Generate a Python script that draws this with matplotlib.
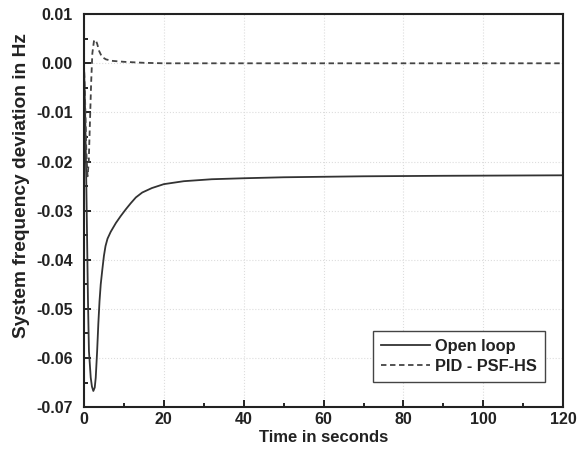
import matplotlib.pyplot as plt
from matplotlib.ticker import MultipleLocator

plt.rcParams['font.family'] = ['Liberation Sans', 'DejaVu Sans']
plt.rcParams['font.weight'] = 'bold'

# Open loop response
t_open = [0, 0.3, 0.6, 1.0, 1.25, 1.7, 2.0, 2.35, 2.7, 2.95, 3.3, 3.6, 3.9, 4.2, 4.6,
          5.0, 5.4, 5.9, 6.7, 8.0, 9.2, 10.5, 11.7, 13, 14.6, 17, 20, 25, 32, 40, 50,
          70, 90, 120]
y_open = [0, -0.010, -0.025, -0.048, -0.0586, -0.064, -0.0658, -0.0667, -0.0660,
          -0.0640, -0.0586, -0.0530, -0.0484, -0.0450, -0.0420, -0.0392, -0.0372,
          -0.0357, -0.0343, -0.0325, -0.0311, -0.0297, -0.0285, -0.0273, -0.0263,
          -0.0254, -0.0246, -0.0240, -0.0236, -0.0234, -0.0232, -0.0230, -0.0229,
          -0.0228]

# PID - PSF - HS response
t_pid = [0, 0.3, 0.6, 0.9, 1.2, 1.5, 1.8, 2.1, 2.5, 2.9, 3.3, 3.8, 4.5, 5.5, 7, 10,
         15, 20, 120]
y_pid = [0, -0.008, -0.018, -0.023, -0.020, -0.012, -0.004, 0.002, 0.0045, 0.0048,
         0.004, 0.0025, 0.0013, 0.0008, 0.0005, 0.0003, 0.0001, 0.0, 0.0]

fig = plt.figure(figsize=(5.83, 4.57), dpi=100)
ax = fig.add_axes([0.144, 0.109, 0.822, 0.860])

ax.plot(t_open, y_open, color='#333333', linewidth=1.3, linestyle='-', label='Open loop')
ax.plot(t_pid, y_pid, color='#444444', linewidth=1.3, linestyle=(0, (3, 2)), label='PID - PSF-HS')

ax.set_xlim(0, 120)
ax.set_ylim(-0.07, 0.01)
ax.xaxis.set_major_locator(MultipleLocator(20))
ax.xaxis.set_minor_locator(MultipleLocator(10))
ax.yaxis.set_major_locator(MultipleLocator(0.01))
ax.yaxis.set_minor_locator(MultipleLocator(0.005))
ax.yaxis.set_major_formatter(plt.FuncFormatter(lambda v, p: f"{v:.2f}"))

ax.tick_params(which='both', direction='in', labelsize=11.5, width=1.2, labelcolor='#222222')
ax.tick_params(which='major', length=5)
ax.tick_params(which='minor', length=3)
ax.tick_params(axis='y', which='major', pad=8)
for s in ax.spines.values():
    s.set_linewidth(1.5)
    s.set_color('#222222')

ax.grid(True, which='major', color='#dddddd', linestyle=':', linewidth=0.8)

ax.set_xlabel("Time in seconds", fontsize=12, fontweight='bold', color='#222222', labelpad=2)
ax.set_ylabel("System frequency deviation in Hz", fontsize=13.8, fontweight='bold', color='#222222')
ax.yaxis.set_label_coords(-0.112, 0.565)

leg = ax.legend(loc='lower right', bbox_to_anchor=(0.962, 0.064), borderaxespad=0,
                fontsize=11.8, fancybox=False, edgecolor='#444444', framealpha=1,
                handlelength=3.0, handletextpad=0.3, borderpad=0.5, labelspacing=0.3)
leg.get_frame().set_linewidth(1.0)
for txt in leg.get_texts():
    txt.set_fontweight('bold')
    txt.set_color('#222222')

plt.savefig("out.png", dpi=100)
